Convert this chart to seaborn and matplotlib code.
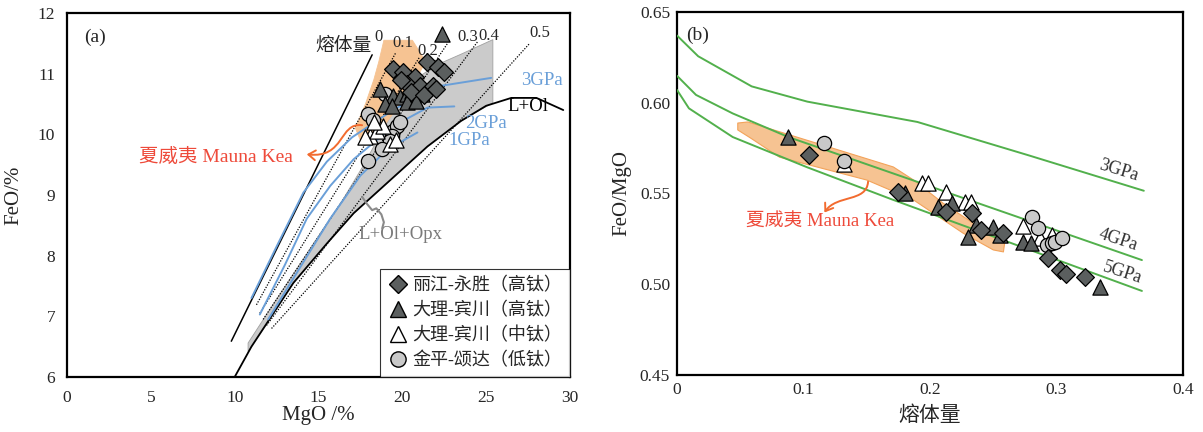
import numpy as np
import matplotlib
matplotlib.use("Agg")
import matplotlib.pyplot as plt
from matplotlib.path import Path
from matplotlib.patches import Polygon, FancyArrowPatch
from matplotlib.lines import Line2D
import seaborn as sns

sns.set_style("white")
plt.rcParams['font.family'] = ['Liberation Serif', 'Noto Sans CJK SC']
plt.rcParams['axes.unicode_minus'] = False

# ---------------- panel (a): MgO vs FeO ----------------
# melting-degree line for F = 0 (solid) and dotted lines for F = 0.1 ... 0.5
melt0_mgo = [9.8, 18.2]
melt0_feo = [6.59, 11.31]
melt_labels = ["0.1", "0.2", "0.3", "0.4", "0.5"]
melt_mgo = [[11.3, 19.6], [11.5, 21.0], [11.7, 22.7], [11.9, 24.5], [12.2, 27.6]]
melt_feo = [[7.19, 11.34], [7.05, 11.26], [6.95, 11.5], [6.85, 11.53], [6.8, 11.5]]

# L+Ol liquidus boundary
lol_mgo = [10.0, 11.0, 13.5, 15.5, 17.1, 19.5, 21.5, 23.5, 25.0, 26.5, 28.0, 29.6]
lol_feo = [6.0, 6.5, 7.55, 8.2, 8.7, 9.3, 9.8, 10.22, 10.47, 10.6, 10.6, 10.4]

# upper edge of the L+Ol+Opx field
opx_top_mgo = [10.8, 12.3, 14.7, 16.4, 17.6, 19.5, 21.0, 22.1, 23.5, 25.4]
opx_top_feo = [6.56, 7.2, 8.2, 8.9, 9.45, 10.4, 10.95, 11.15, 11.32, 11.56]

# isobaric melting curves
gpa3_mgo = [11.0, 12.5, 14.1, 15.5, 17.0, 19.5, 22.1, 25.3]
gpa3_feo = [7.3, 8.15, 9.04, 9.55, 9.95, 10.41, 10.79, 10.93]
gpa2_mgo = [11.5, 13.0, 14.3, 15.7, 17.1, 19.5, 21.5, 23.1]
gpa2_feo = [7.03, 7.85, 8.61, 9.15, 9.59, 10.14, 10.44, 10.46]
gpa1_mgo = [12.0, 14.0, 15.7, 17.5, 19.1, 20.9]
gpa1_feo = [6.95, 7.85, 8.61, 9.32, 9.75, 10.03]

# Mauna Kea field
mk_a_mgo = [18.9, 20.6, 21.4, 20.6, 19.6, 18.8, 17.5, 17.2, 17.8, 18.3, 18.6]
mk_a_feo = [11.55, 11.55, 11.2, 10.8, 10.4, 10.1, 9.9, 10.1, 10.5, 10.9, 11.2]

# samples
lj_mgo = [19.44, 20.04, 21.47, 22.1, 22.5, 20.75, 20.27, 21.05, 21.8, 19.9, 20.5, 21.3, 22.0]
lj_feo = [11.07, 11.02, 11.19, 11.11, 11.02, 10.94, 10.83, 10.79, 10.79, 10.9, 10.7, 10.65, 10.75]
dlh_mgo = [22.36, 18.66, 19.44, 19.86, 20.27, 20.6, 21.2, 20.3, 18.96, 19.38, 20.8]
dlh_feo = [11.65, 10.74, 10.63, 10.61, 10.66, 10.71, 10.66, 10.53, 10.5, 10.46, 10.55]
dlm_mgo = [18.07, 18.5, 18.84, 19.26, 17.77, 19.6, 18.3]
dlm_feo = [9.97, 10.05, 10.13, 9.84, 9.95, 9.9, 10.2]
jp_mgo = [18.96, 17.95, 18.25, 19.44, 19.68, 19.86, 19.38, 19.26, 18.78, 17.95]
jp_feo = [10.66, 10.33, 10.23, 10.05, 10.13, 10.2, 9.97, 9.89, 9.76, 9.56]

# ---------------- panel (b): melt fraction vs FeO/MgO ----------------
iso3_f = [0.0, 0.0167, 0.059, 0.103, 0.19, 0.278, 0.369]
iso3_r = [0.637, 0.6256, 0.609, 0.6006, 0.5894, 0.5710, 0.5515]
iso4_f = [0.0, 0.015, 0.044, 0.088, 0.19, 0.22, 0.3675]
iso4_r = [0.6148, 0.6043, 0.5941, 0.5811, 0.5564, 0.5490, 0.5133]
iso5_f = [0.0, 0.0094, 0.044, 0.103, 0.17, 0.3675]
iso5_r = [0.607, 0.5969, 0.5811, 0.5644, 0.5467, 0.4963]

mk_b_f = [0.048, 0.056, 0.171, 0.187, 0.210, 0.234, 0.259, 0.258, 0.250, 0.226, 0.187, 0.150, 0.081, 0.058, 0.048]
mk_b_r = [0.5888, 0.5894, 0.5646, 0.5574, 0.5448, 0.5337, 0.5227, 0.5178, 0.5189, 0.5282, 0.5464, 0.5574, 0.570, 0.5806, 0.585]

b_lj_f = [0.104, 0.175, 0.213, 0.233, 0.240, 0.258, 0.2933, 0.3028, 0.3075, 0.3225]
b_lj_r = [0.5712, 0.5508, 0.540, 0.5393, 0.530, 0.5282, 0.5145, 0.5079, 0.5057, 0.504]
b_dlh_f = [0.0877, 0.180, 0.217, 0.206, 0.236, 0.230, 0.250, 0.255, 0.2735, 0.2798, 0.3344]
b_dlh_r = [0.5811, 0.5503, 0.5448, 0.5426, 0.5326, 0.526, 0.5315, 0.527, 0.5233, 0.5227, 0.4985]
b_dlm_f = [0.132, 0.194, 0.198, 0.213, 0.228, 0.232, 0.2735, 0.287, 0.2964]
b_dlm_r = [0.566, 0.5558, 0.5558, 0.5508, 0.5453, 0.5453, 0.532, 0.5255, 0.527]
b_jp_f = [0.116, 0.132, 0.2806, 0.2854, 0.2925, 0.2964, 0.2988, 0.3043]
b_jp_r = [0.5778, 0.5679, 0.537, 0.531, 0.5216, 0.5227, 0.5233, 0.5255]

legend_labels = ["丽江-永胜（高钛）", "大理-宾川（高钛）", "大理-宾川（中钛）", "金平-颂达（低钛）"]

DARK = "#5b5f5f"
LIGHT = "#c9c9c9"
BLUE = "#6a9fd8"
GREEN = "#52b04c"
ORANGE_FILL = "#f6c392"
ORANGE_EDGE = "#f3a35a"
RED = "#ee4a3a"
GREY_FILL = "#cbcbcb"

fig = plt.figure(figsize=(12.03, 4.32), dpi=100)
ax1 = fig.add_axes([0.0557, 0.1273, 0.4181, 0.8427])
ax2 = fig.add_axes([0.5628, 0.1320, 0.4206, 0.8403])

TICK_FS = 12.5


def scatter_groups(ax, groups):
    for (x, y, m, fc, s) in groups:
        sns.scatterplot(x=x, y=y, ax=ax, marker=m, s=s, color=fc,
                        edgecolor="black", linewidth=0.9, zorder=6, legend=False)


# ---- panel (a) ----
ax = ax1
opx_poly = list(zip(opx_top_mgo, opx_top_feo)) + [(25.4, 10.52)] + \
    [(m, f) for m, f in zip(lol_mgo[::-1], lol_feo[::-1]) if 10.8 <= m <= 24.9] + [(10.8, 6.42)]
ax.add_patch(Polygon(opx_poly, closed=True, facecolor=GREY_FILL, edgecolor="#a0a0a0",
                     linewidth=0.6, zorder=1))
ax.add_patch(Polygon(list(zip(mk_a_mgo, mk_a_feo)), closed=True, facecolor=ORANGE_FILL,
                     edgecolor=ORANGE_FILL, linewidth=0.6, zorder=2))

sns.lineplot(x=melt0_mgo, y=melt0_feo, ax=ax, color="black", linewidth=1.1, sort=False, zorder=3)
for xs, ys in zip(melt_mgo, melt_feo):
    ax.plot(xs, ys, color="black", linestyle=(0, (1, 1.2)), linewidth=0.9, zorder=3)
sns.lineplot(x=lol_mgo, y=lol_feo, ax=ax, color="black", linewidth=1.3, sort=False, zorder=3)
for xs, ys in [(gpa3_mgo, gpa3_feo), (gpa2_mgo, gpa2_feo), (gpa1_mgo, gpa1_feo)]:
    sns.lineplot(x=xs, y=ys, ax=ax, color=BLUE, linewidth=1.4, sort=False, zorder=4)

scatter_groups(ax, [
    (jp_mgo, jp_feo, "o", LIGHT, 105),
    (dlm_mgo, dlm_feo, "^", "white", 120),
    (dlh_mgo, dlh_feo, "^", DARK, 120),
    (lj_mgo, lj_feo, "D", DARK, 82),
])

ax.set_xlim(0, 30)
ax.set_ylim(6, 12)
ax.set_xticks(np.arange(0, 31, 5))
ax.set_yticks(np.arange(6, 13, 1))
ax.tick_params(axis="x", direction="in", length=5, width=1, labelsize=TICK_FS, pad=9)
ax.tick_params(axis="y", direction="out", length=5, width=1, labelsize=TICK_FS)
ax.set_xlabel("MgO /%", fontsize=15, labelpad=0)
ax.set_ylabel("FeO/%", fontsize=15, labelpad=10)

ax.text(1.0, 11.6, "(a)", fontsize=14, ha="left", va="center")
ax.text(18.15, 11.45, "熔体量", fontsize=13.5, ha="right", va="center")
ax.text(18.55, 11.6, "0", fontsize=12, ha="center", va="center")
for lab, (tx, ty) in zip(melt_labels, [(20.0, 11.5), (21.5, 11.38), (23.9, 11.6),
                                       (25.15, 11.62), (28.2, 11.67)]):
    ax.text(tx, ty, lab, fontsize=12, ha="center", va="center")
ax.text(28.3, 10.88, "3GPa", fontsize=13.5, color=BLUE, ha="center", va="center")
ax.text(25.0, 10.17, "2GPa", fontsize=13.5, color=BLUE, ha="center", va="center")
ax.text(24.0, 9.89, "1GPa", fontsize=13.5, color=BLUE, ha="center", va="center")
ax.text(27.5, 10.46, "L+Ol", fontsize=13.5, color="black", ha="center", va="center")
ax.text(19.9, 8.35, "L+Ol+Opx", fontsize=13.5, color="#7a7a7a", ha="center", va="center")
ax.plot([17.6, 17.9, 18.2, 18.45, 18.75, 18.9, 18.8], [8.97, 8.85, 8.75, 8.78, 8.68, 8.55, 8.45],
        color="#8a8a8a", linewidth=1.5, zorder=3)

ax.text(8.9, 9.62, "夏威夷 Mauna Kea", fontsize=14, color=RED, ha="center", va="center")
arr_a = Path([(17.6, 10.15), (16.2, 10.2), (16.6, 9.6), (14.3, 9.67)],
             [Path.MOVETO, Path.CURVE4, Path.CURVE4, Path.CURVE4])
ax.add_patch(FancyArrowPatch(path=arr_a, arrowstyle="->,head_length=5,head_width=3.5",
                             color="#f26b2f", linewidth=1.4, zorder=5))

handles = [
    Line2D([], [], marker="D", linestyle="none", markersize=9, markerfacecolor=DARK, markeredgecolor="black"),
    Line2D([], [], marker="^", linestyle="none", markersize=11.5, markerfacecolor=DARK, markeredgecolor="black"),
    Line2D([], [], marker="^", linestyle="none", markersize=11.5, markerfacecolor="white", markeredgecolor="black"),
    Line2D([], [], marker="o", linestyle="none", markersize=11, markerfacecolor=LIGHT, markeredgecolor="black"),
]
leg = ax.legend(handles, legend_labels, loc="lower right", fontsize=13, frameon=True,
                fancybox=False, edgecolor="black", borderaxespad=0, handlelength=1.0,
                handletextpad=0.3, labelspacing=0.42, borderpad=0.45)
leg.get_frame().set_linewidth(0.8)

# ---- panel (b) ----
ax = ax2
ax.add_patch(Polygon(list(zip(mk_b_f, mk_b_r)), closed=True, facecolor=ORANGE_FILL,
                     edgecolor=ORANGE_EDGE, linewidth=0.8, zorder=1,
                     joinstyle="round"))
for xs, ys in [(iso3_f, iso3_r), (iso4_f, iso4_r), (iso5_f, iso5_r)]:
    sns.lineplot(x=xs, y=ys, ax=ax, color=GREEN, linewidth=1.4, sort=False, zorder=3)

scatter_groups(ax, [
    (b_dlm_f, b_dlm_r, "^", "white", 120),
    (b_jp_f, b_jp_r, "o", LIGHT, 105),
    (b_dlh_f, b_dlh_r, "^", DARK, 120),
    (b_lj_f, b_lj_r, "D", DARK, 82),
])

ax.set_xlim(0, 0.4)
ax.set_ylim(0.45, 0.65)
ax.set_xticks([0, 0.1, 0.2, 0.3, 0.4])
ax.set_xticklabels(["0", "0.1", "0.2", "0.3", "0.4"])
ax.set_yticks([0.45, 0.50, 0.55, 0.60, 0.65])
ax.set_yticklabels(["0.45", "0.50", "0.55", "0.60", "0.65"])
ax.tick_params(axis="both", direction="in", length=3, width=1, labelsize=TICK_FS, pad=5)
ax.set_xlabel("熔体量", fontsize=15, labelpad=6)
ax.set_ylabel("FeO/MgO", fontsize=15, labelpad=6)

ax.text(0.0075, 0.637, "(b)", fontsize=14, ha="left", va="center")
ax.text(0.349, 0.5625, "3GPa", fontsize=13, color="#333333", ha="center", va="center", rotation=-17)
ax.text(0.349, 0.5245, "4GPa", fontsize=13, color="#333333", ha="center", va="center", rotation=-18)
ax.text(0.352, 0.5065, "5GPa", fontsize=13, color="#333333", ha="center", va="center", rotation=-18)

ax.text(0.113, 0.5342, "夏威夷 Mauna Kea", fontsize=13.5, color=RED, ha="center", va="center")
arr_b = Path([(0.151, 0.5565), (0.150, 0.545), (0.126, 0.5495), (0.1165, 0.5395)],
             [Path.MOVETO, Path.CURVE4, Path.CURVE4, Path.CURVE4])
ax.add_patch(FancyArrowPatch(path=arr_b, arrowstyle="->,head_length=5,head_width=3.5",
                             color="#f26b2f", linewidth=1.4, zorder=5))

for a in (ax1, ax2):
    for sp in a.spines.values():
        sp.set_visible(True)
        sp.set_color("black")
        sp.set_linewidth(1.6)

fig.savefig("out.png", dpi=100)
